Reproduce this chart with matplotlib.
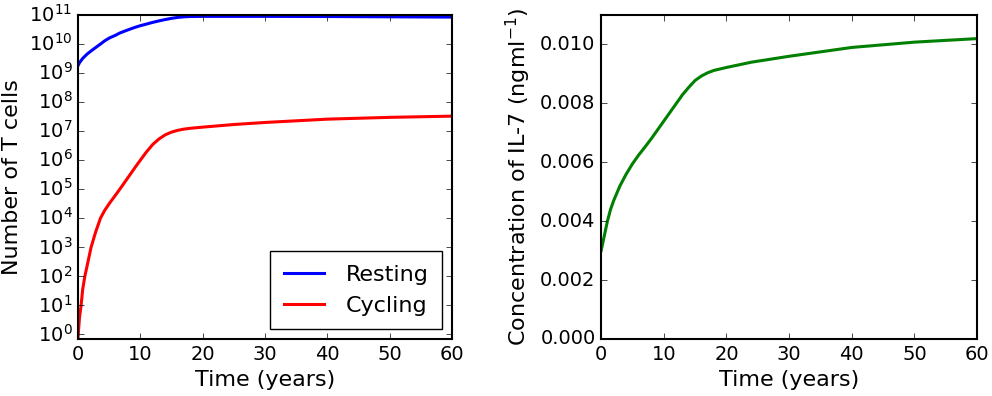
import numpy as np
import matplotlib
matplotlib.use('Agg')
import matplotlib.pyplot as plt

plt.style.use('classic')
plt.rcParams['font.family'] = 'DejaVu Sans'
plt.rcParams['mathtext.fontset'] = 'dejavusans'
plt.rcParams['mathtext.default'] = 'regular'

# time (years) for T-cell curves
t_cells = [0, 0.25, 0.5, 0.75, 1.1, 1.5, 2.1, 2.8, 3.6, 4.3, 5.1, 6, 6.7, 7.5, 8.4, 9.2, 10,
           11, 12, 13, 14, 15, 16, 17, 18, 20, 25, 30, 40, 50, 60]
resting = [1.8e9, 2.3e9, 2.7e9, 3.2e9, 3.8e9, 4.6e9, 5.8e9, 7.5e9, 1.0e10, 1.3e10, 1.65e10,
           2.0e10, 2.4e10, 2.8e10, 3.3e10, 3.8e10, 4.3e10, 4.9e10, 5.6e10, 6.3e10, 7.0e10,
           7.7e10, 8.3e10, 8.7e10, 8.9e10, 9.0e10, 9.0e10, 9.0e10, 8.9e10, 8.7e10, 8.5e10]
cycling = [0.75, 4, 10, 35, 100, 250, 1e3, 3.2e3, 1e4, 1.9e4, 3.4e4, 6.2e4, 1e5, 1.75e5,
           3.3e5, 5.8e5, 1e6, 1.95e6, 3.5e6, 5.4e6, 7.5e6, 9.3e6, 1.07e7, 1.18e7, 1.26e7,
           1.38e7, 1.7e7, 2.0e7, 2.6e7, 3.0e7, 3.3e7]

# IL-7 concentration
t_il7 = [0, 0.5, 1, 1.5, 2, 3, 4, 5, 6, 7, 8, 9, 10, 11, 12, 13, 14, 15, 16, 17, 18, 20,
         24, 30, 40, 50, 60]
il7 = [0.0030, 0.0035, 0.0040, 0.0044, 0.0047, 0.0052, 0.0056, 0.00595, 0.00625, 0.00652,
       0.0068, 0.0071, 0.0074, 0.0077, 0.0080, 0.0083, 0.00855, 0.00878, 0.00893, 0.00904,
       0.00912, 0.00922, 0.0094, 0.0096, 0.0099, 0.01008, 0.0102]

fig = plt.figure(figsize=(9.92, 3.96), dpi=100, facecolor='white')

ax1 = fig.add_axes([0.0786, 0.144, 0.377, 0.818])
ax1.semilogy(t_cells, resting, color='b', lw=2.2, label='Resting')
ax1.semilogy(t_cells, cycling, color='r', lw=2.2, label='Cycling')
ax1.set_xlim(0, 60)
ax1.set_ylim(0.7, 1e11)
ax1.set_yticks([10.0**k for k in range(12)])
ax1.minorticks_off()
ax1.set_xlabel('Time (years)', fontsize=16)
ax1.set_ylabel('Number of T cells', fontsize=16)
ax1.tick_params(labelsize=14)
leg = ax1.legend(loc='lower right', fontsize=16, numpoints=1, handlelength=1.8,
                 handletextpad=1.0, borderpad=0.6, borderaxespad=0.45)
leg.get_frame().set_linewidth(1.0)

ax2 = fig.add_axes([0.606, 0.144, 0.379, 0.818])
ax2.plot(t_il7, il7, color='g', lw=2.2)
ax2.set_xlim(0, 60)
ax2.set_ylim(0, 0.011)
ax2.set_yticks([0, 0.002, 0.004, 0.006, 0.008, 0.010])
ax2.set_yticklabels(['0.000', '0.002', '0.004', '0.006', '0.008', '0.010'])
ax2.set_xlabel('Time (years)', fontsize=16)
ax2.set_ylabel('Concentration of IL-7 (ngml$^{-1}$)', fontsize=16)
ax2.tick_params(labelsize=14)

for ax in (ax1, ax2):
    for s in ax.spines.values():
        s.set_linewidth(1.5)

fig.savefig('out.png', dpi=100, facecolor='white')
